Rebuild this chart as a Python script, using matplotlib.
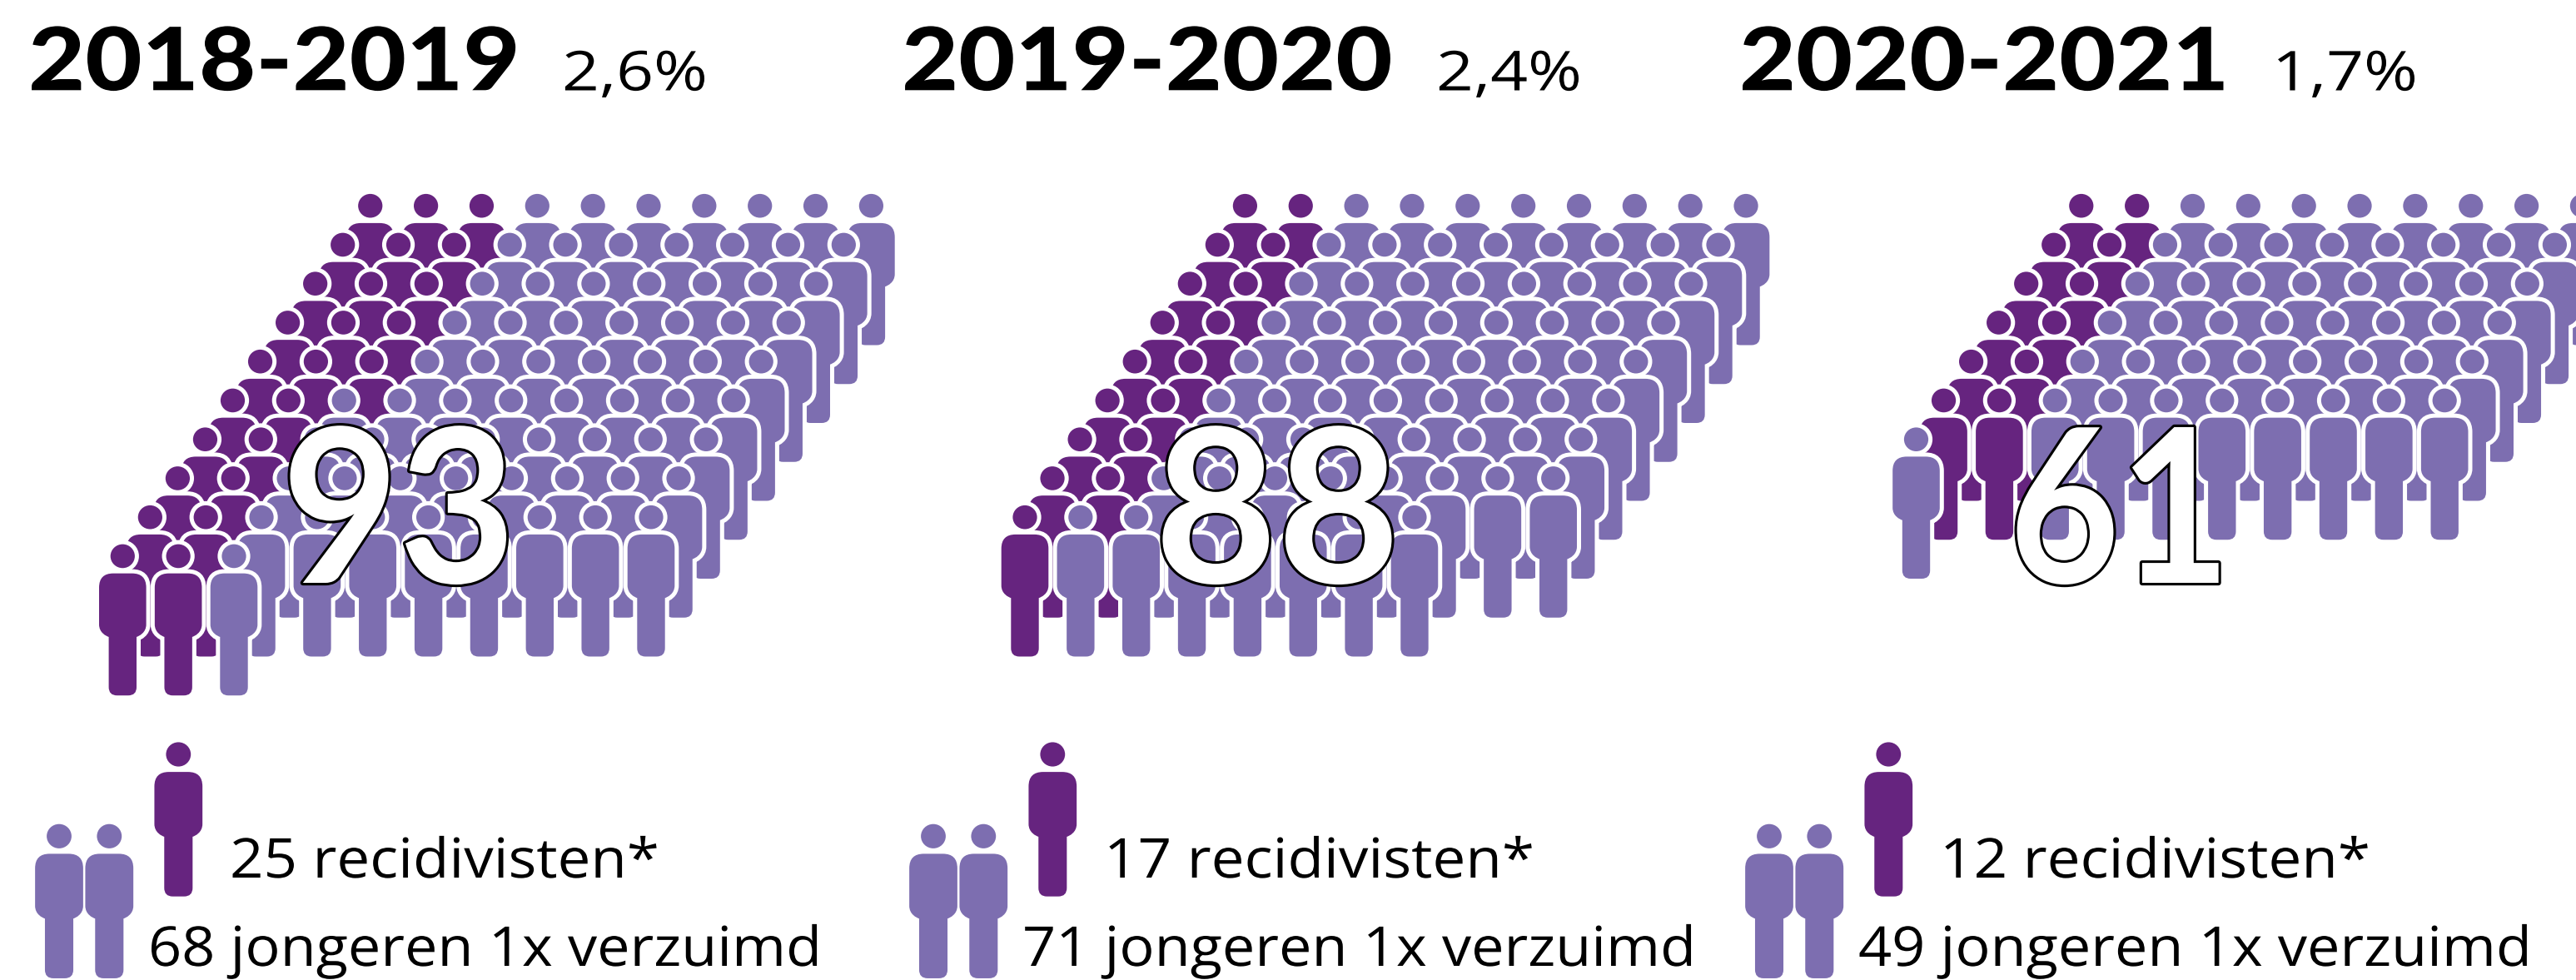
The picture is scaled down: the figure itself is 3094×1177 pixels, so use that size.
import matplotlib
matplotlib.use("Agg")
import matplotlib.pyplot as plt
import matplotlib.patheffects as pe
from matplotlib.patches import PathPatch
from matplotlib.path import Path
from matplotlib.transforms import Affine2D

# ---- data ----
periods = ["2018-2019", "2019-2020", "2020-2021"]
percentages = ["2,6%", "2,4%", "1,7%"]
totals = [93, 88, 61]
recidivists = [25, 17, 12]
once_absent = [68, 71, 49]
front_row_count = [3, 8, 1]
full_rows = [9, 8, 6]
dark_per_row = [[2, 2, 2, 2, 3, 3, 3, 3, 3], [2, 2, 2, 2, 2, 2, 2, 2], [2, 2, 2, 2, 2, 2]]
front_row_dark = [2, 1, 0]

# ---- layout ----
W, H = 3094, 1177
DARK, LIGHT = "#66247F", "#7D6EB0"
COL_DX, ROW_DX, ROW_DY = 66.85, 33.05, -46.75
TOP_HEAD_Y = 247.2
FRONT_X = [147.3, 1231.0, 2301.5]
HEAD_X_PANEL = [34, 1083, 2089]
HEAD_W = [591, 590, 589]
PCT_X = [675, 1725, 2729]
PCT_W = [175, 175, 175]
BIG_X = [479, 1534, 2546]
BIG_W = [281, 295, 266]
LEG_DX = [0, 1050, 2054]
REC_W = [516, 517, 517]
ABS_W = [809, 809, 809]
HALO = 5.0
px = 72 / 100


class Fit(pe.AbstractPathEffect):
    """Squeeze a text run horizontally about x0, with an optional outline."""
    def __init__(self, sx, x0, stroke=0, edge="black"):
        super().__init__()
        self.sx, self.x0, self.stroke, self.edge = sx, x0, stroke, edge

    def draw_path(self, renderer, gc, tpath, affine, rgbFace=None):
        aff = affine + Affine2D().translate(-self.x0, 0).scale(self.sx, 1).translate(self.x0, 0)
        if self.stroke:
            g = renderer.new_gc()
            g.copy_properties(gc)
            g.set_linewidth(self.stroke)
            g.set_foreground(self.edge)
            renderer.draw_path(g, tpath, aff, rgbFace)
            g.restore()
        renderer.draw_path(gc, tpath, aff, rgbFace)


def person_paths():
    """Head and body outlines around the head centre."""
    r, ry = 14.6, 14.3
    k = 0.5523
    head = Path([(r, 0), (r, k*ry), (k*r, ry), (0, ry), (-k*r, ry), (-r, k*ry), (-r, 0),
                 (-r, -k*ry), (-k*r, -ry), (0, -ry), (k*r, -ry), (r, -k*ry), (r, 0), (r, 0)],
                [Path.MOVETO] + [Path.CURVE4]*12 + [Path.CLOSEPOLY])
    w, lw, top, t2, wa, bot = 28.3, 16.7, 20.7, 82.0, 97.0, 167.3
    c, f = 17.0, 10.0
    v = [(-w+c, top), (w-c, top), (w, top), (w, top+c), (w, t2), (w, t2+10), (lw+3, wa-1), (lw, wa),
         (lw, bot-f), (lw, bot), (lw-f, bot), (-lw+f, bot), (-lw, bot), (-lw, bot-f), (-lw, wa),
         (-lw-3, wa-1), (-w, t2+10), (-w, t2), (-w, top+c), (-w, top), (-w+c, top), (-w+c, top)]
    cd = [Path.MOVETO, Path.LINETO, Path.CURVE3, Path.CURVE3, Path.LINETO, Path.CURVE4, Path.CURVE4, Path.CURVE4,
          Path.LINETO, Path.CURVE3, Path.CURVE3, Path.LINETO, Path.CURVE3, Path.CURVE3, Path.LINETO,
          Path.CURVE4, Path.CURVE4, Path.CURVE4, Path.LINETO, Path.CURVE3, Path.CURVE3, Path.CLOSEPOLY]
    return head, Path(v, cd)


HEAD, BODY = person_paths()

fig = plt.figure(figsize=(W/100, H/100), dpi=100, facecolor="white")
ax = fig.add_axes([0, 0, 1, 1])
ax.set_xlim(0, W)
ax.set_ylim(H, 0)
ax.axis("off")
rend = fig.canvas.get_renderer()


def fitted(x, y, s, width, ha="left", stroke=0, **kw):
    t = ax.text(x, y, s, ha=ha, va="baseline", **kw)
    natural = t.get_window_extent(renderer=rend).width
    t.set_path_effects([Fit(width / natural, x, stroke)])
    return t


def person(x, y, color, z, halo=True, scale=1.0):
    tr = Affine2D().scale(scale).translate(x, y) + ax.transData
    for shape in (BODY, HEAD):
        if halo:
            ax.add_patch(PathPatch(shape, transform=tr, fc="white", ec="white",
                                   lw=2*HALO*px, zorder=z))
        ax.add_patch(PathPatch(shape, transform=tr, fc=color, ec="none", zorder=z))


for p in range(3):
    fx = FRONT_X[p]
    n = full_rows[p]
    z = 2
    front_y = TOP_HEAD_Y - ROW_DY * n
    for r in range(n, -1, -1):
        y = front_y + r * ROW_DY
        x0 = fx + r * ROW_DX
        count = 10 if r > 0 else front_row_count[p]
        dark = dark_per_row[p][r-1] if r > 0 else front_row_dark[p]
        for c in range(count):
            person(x0 + c*COL_DX, y, DARK if c < dark else LIGHT, z)
            z += 0.01

    fitted(HEAD_X_PANEL[p], 108.3, periods[p], HEAD_W[p], family="Lato", weight="black",
           fontsize=75.5, color="black", zorder=10)
    fitted(PCT_X[p], 108.5, percentages[p], PCT_W[p], family="Open Sans", fontsize=47.5, color="black", zorder=10)
    fitted(BIG_X[p], 700, str(totals[p]), BIG_W[p], ha="center", stroke=4.5, family="Lato", weight="bold",
           fontsize=186, color="white", zorder=20)

    d = LEG_DX[p]
    person(214.3 + d, 906, DARK, 10, halo=False, scale=1.02)
    person(71 + d, 1004.3, LIGHT, 10, halo=False, scale=1.02)
    person(131.3 + d, 1004.3, LIGHT, 10, halo=False, scale=1.02)
    fitted(276 + d, 1054, f"{recidivists[p]} recidivisten*", REC_W[p], family="Open Sans", fontsize=47.5,
           color="black", zorder=10)
    fitted(178 + d, 1160, f"{once_absent[p]} jongeren 1x verzuimd", ABS_W[p], family="Open Sans", fontsize=47.5,
           color="black", zorder=10)

fig.savefig("out.png", dpi=100, facecolor="white")
